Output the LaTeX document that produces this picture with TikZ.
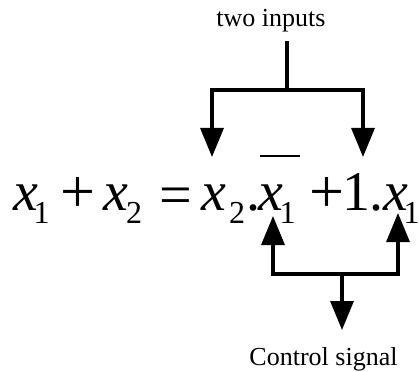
\documentclass[tikz,border=0pt]{standalone}
\usepackage{fontspec}
\setmainfont{Liberation Serif}
\usetikzlibrary{arrows.meta}
\newcommand{\subtxt}[1]{\raisebox{-13pt}{\fontsize{32}{34}\selectfont #1}}
\newcommand{\varx}{\textit{x}}
\tikzset{
  lbl/.style={inner sep=0pt, font=\fontsize{26}{28}\selectfont},
  big/.style={inner sep=0pt, anchor=base west, font=\fontsize{56}{60}\selectfont},
  op/.style={inner sep=0pt, anchor=base west, font=\fontsize{62}{66}\selectfont},
  eqop/.style={inner sep=0pt, anchor=base west, font=\fontsize{58}{62}\selectfont},
  wire/.style={line width=3.3pt, line join=miter},
  arr/.style={wire, -{Triangle[width=23pt,length=29pt]}}
}
\begin{document}
\begin{tikzpicture}[x=1pt,y=-1pt]
\useasboundingbox (0,0) rectangle (419,371);
% labels
\node[lbl, anchor=base] (inputs) at (271,27) {two inputs};
\node[lbl, anchor=base] (control) at (323.5,365) {Control signal};
% equation pieces (baseline y=210)
\node[big] (xa) at (13.5,210) {\varx\kern-4.9pt\subtxt{1}};
\node[op] (pa) at (60,212) {+};
\node[big] (xb) at (103.5,210) {\varx\kern-2.4pt\subtxt{2}};
\node[eqop] (eq) at (159.5,214) {=};
\node[big] (xc) at (201.5,210) {\varx\kern2.6pt\subtxt{2}};
\node[big] (xd) at (246,210) {.\kern-1.5pt\varx\kern-3.9pt\subtxt{1}};
\node[op] (pb) at (309,212) {+};
\node[big] (xe) at (341.8,210) {1\kern-0.8pt.\kern0.5pt\varx\kern-4.9pt\subtxt{1}};
% overbar
\coordinate (barL) at (260,156);
\coordinate (barR) at (300,156);
\draw[line width=2pt] (barL) -- (barR);
% top connector
\coordinate (topStem) at (287,41);
\coordinate (topJ) at (287,90);
\coordinate (tipL) at (212,157);
\coordinate (tipR) at (363,157);
\draw[wire] (topStem) -- (topJ);
\draw[arr] (topJ) -| (tipL);
\draw[arr] (topJ) -| (tipR);
% bottom connector
\coordinate (botJ) at (342,274);
\coordinate (tipBL) at (273,216);
\coordinate (tipBR) at (398,213);
\coordinate (tipDown) at (342,330);
\draw[arr] (botJ) -| (tipBL);
\draw[arr] (botJ) -| (tipBR);
\draw[arr] (botJ) -- (tipDown);
\end{tikzpicture}
\end{document}
